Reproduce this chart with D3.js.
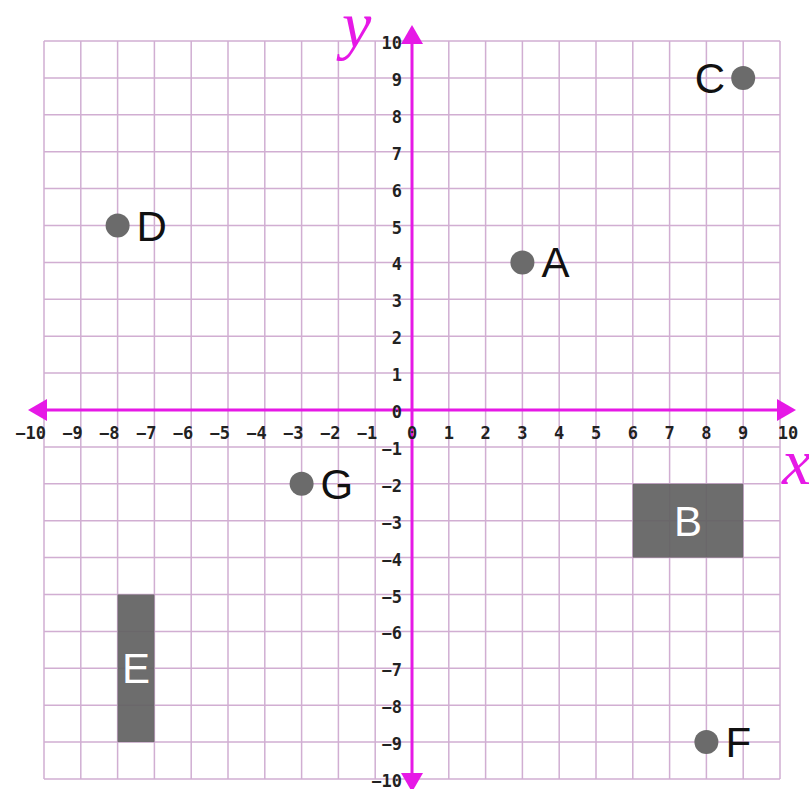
<!DOCTYPE html>
<meta charset="utf-8">
<style>
body { margin: 0; background: #fff; }
.grid line { stroke: #c9a1cb; stroke-width: 1.5; }
.axis-line { stroke: #e619e6; stroke-width: 3; }
.tick { font-family: "DejaVu Sans Mono", monospace; font-weight: bold; font-size: 17px; fill: #222; }
.ptlabel { font-family: "Liberation Sans", Arial, sans-serif; font-size: 42px; fill: #111; }
.boxlabel { font-family: "Liberation Sans", Arial, sans-serif; font-size: 42px; fill: #fff; }
.axname { font-family: "Liberation Serif", serif; font-style: italic; font-size: 66px; fill: #e619e6; }
</style>
<body></body>
<script src="https://d3js.org/d3.v7.min.js"></script>
<script>

// data
var ticks = d3.range(-10, 11);
var pointNames = ["A", "C", "D", "G", "F"];
var pointX = [3, 9, -8, -3, 8];
var pointY = [4, 9, 5, -2, -9];
var labelSide = ["right", "left", "right", "right", "right"];

var boxNames = ["B", "E"];
var boxX0 = [6, -8], boxX1 = [9, -7];
var boxY0 = [-2, -5], boxY1 = [-4, -9];

var width = 809, height = 789;

var x = d3.scaleLinear().domain([-10, 10]).range([44, 780]);
var y = d3.scaleLinear().domain([-10, 10]).range([779, 41]);

var svg = d3.select("body").append("svg")
    .attr("width", width)
    .attr("height", height);

// grid
var grid = svg.append("g").attr("class", "grid").style("opacity", 0.85);
grid.selectAll("line.v")
    .data(ticks)
  .enter().append("line")
    .attr("x1", function(d) { return x(d); })
    .attr("x2", function(d) { return x(d); })
    .attr("y1", y(10)).attr("y2", y(-10));
grid.selectAll("line.h")
    .data(ticks)
  .enter().append("line")
    .attr("y1", function(d) { return y(d); })
    .attr("y2", function(d) { return y(d); })
    .attr("x1", x(-10)).attr("x2", x(10));

// boxes, slightly see-through so the grid shows faintly
svg.selectAll("rect.box")
    .data(boxNames)
  .enter().append("rect")
    .attr("class", "box")
    .attr("x", function(d, i) { return x(Math.min(boxX0[i], boxX1[i])); })
    .attr("y", function(d, i) { return y(Math.max(boxY0[i], boxY1[i])); })
    .attr("width", function(d, i) { return Math.abs(x(boxX1[i]) - x(boxX0[i])); })
    .attr("height", function(d, i) { return Math.abs(y(boxY1[i]) - y(boxY0[i])); })
    .style("fill", "#626262")
    .style("opacity", 0.93);

// box labels
svg.selectAll("text.boxlabel")
    .data(boxNames)
  .enter().append("text")
    .attr("class", "boxlabel")
    .attr("text-anchor", "middle")
    .attr("x", function(d, i) { return (x(boxX0[i]) + x(boxX1[i])) / 2; })
    .attr("y", function(d, i) { return (y(boxY0[i]) + y(boxY1[i])) / 2 + 15; })
    .text(function(d) { return d; });

// axes with arrowheads
var mag = "#e619e6";
svg.append("line").attr("class", "axis-line")
    .attr("x1", 44).attr("x2", 782)
    .attr("y1", y(0)).attr("y2", y(0));
svg.append("line").attr("class", "axis-line")
    .attr("x1", x(0)).attr("x2", x(0))
    .attr("y1", 44).attr("y2", 775);

function arrow(tipX, tipY, dir) {
  // dir: direction vector of the arrow
  var L = 19, W = 11;
  var bx = tipX - dir[0] * L, by = tipY - dir[1] * L;
  var px = -dir[1] * W, py = dir[0] * W;
  svg.append("path")
    .attr("d", "M" + tipX + "," + tipY + "L" + (bx + px) + "," + (by + py) +
               "L" + (bx - px) + "," + (by - py) + "Z")
    .style("fill", mag);
}
arrow(28, y(0), [-1, 0]);
arrow(796, y(0), [1, 0]);
arrow(x(0), 25, [0, -1]);
arrow(x(0), 792, [0, 1]);

// x tick labels
svg.selectAll("text.xt")
    .data(ticks)
  .enter().append("text")
    .attr("class", "tick")
    .attr("x", function(d) { return d < 0 ? x(d) + 2 : (d == 10 ? x(d) + 8 : x(d)); })
    .attr("y", y(0) + 29)
    .attr("text-anchor", function(d) { return d < 0 ? "end" : "middle"; })
    .text(function(d) { return d < 0 ? "\u2212" + Math.abs(d) : d; });

// y tick labels
svg.selectAll("text.yt")
    .data(ticks)
  .enter().append("text")
    .attr("class", "tick")
    .attr("x", x(0) - 10)
    .attr("y", function(d) { return y(d) + 8; })
    .attr("text-anchor", "end")
    .text(function(d) { return d < 0 ? "\u2212" + Math.abs(d) : d; });

// axis names
svg.append("text").attr("class", "axname").attr("x", 342).attr("y", 47).text("y");
svg.append("text").attr("class", "axname").attr("x", 782).attr("y", 484).text("x");

// points
svg.selectAll("circle.pt")
    .data(pointNames)
  .enter().append("circle")
    .attr("cx", function(d, i) { return x(pointX[i]); })
    .attr("cy", function(d, i) { return y(pointY[i]); })
    .attr("r", 12)
    .style("fill", "#6b6b6b");

svg.selectAll("text.ptlabel")
    .data(pointNames)
  .enter().append("text")
    .attr("class", "ptlabel")
    .attr("x", function(d, i) { return labelSide[i] == "left" ? x(pointX[i]) - 18 : x(pointX[i]) + 19; })
    .attr("y", function(d, i) { return y(pointY[i]) + 15; })
    .attr("text-anchor", function(d, i) { return labelSide[i] == "left" ? "end" : "start"; })
    .text(function(d) { return d; });

</script>
